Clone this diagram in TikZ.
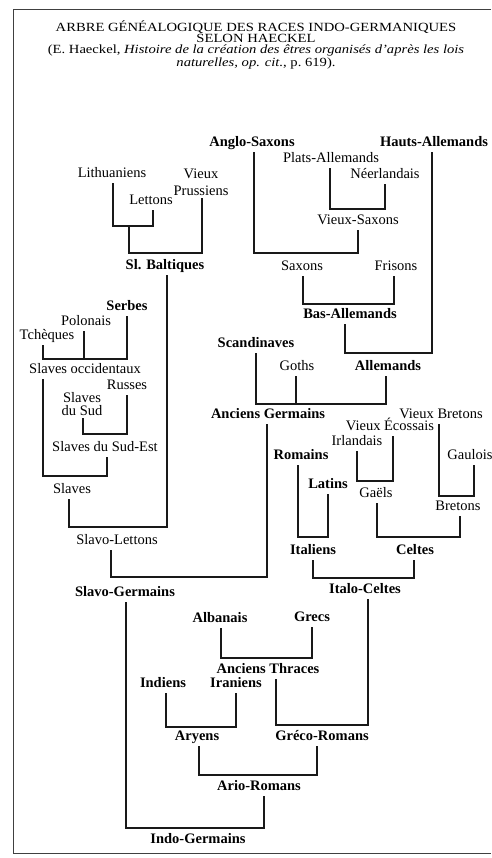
\documentclass[tikz,border=0pt]{standalone}
\usepackage{fontspec}
\setmainfont{Liberation Serif}
\newfontfamily\titlefont[FakeStretch=1.17]{Liberation Serif}
\begin{document}
\begin{tikzpicture}[x=1pt,y=-1pt,
  lab/.style={font=\fontsize{14.5}{17}\selectfont, text height=10pt, text depth=3pt, inner xsep=1pt, inner ysep=2.5pt},
  labb/.style={lab, font=\fontsize{14.5}{17}\selectfont\bfseries},
  twoline/.style={font=\fontsize{14.5}{17}\selectfont, align=center, inner xsep=1pt, inner ysep=2pt, anchor=south},
  tree/.style={line width=1.1pt, black!90},
  frame/.style={line width=1pt, black!75},
  titlestyle/.style={font=\titlefont\fontsize{12.5}{11}\selectfont, align=center, anchor=north, inner sep=0pt}]
\useasboundingbox (0,0) rectangle (491,858);
\draw[frame] (491,10) -- (13,10) -- (13,853) -- (491,853);

\node[titlestyle] (title) at (256,21) {ARBRE GÉNÉALOGIQUE DES RACES INDO-GERMANIQUES\\SELON HAECKEL\\(E. Haeckel, \textit{Histoire de la création des êtres organisés d’après les lois}\\\textit{naturelles, op. cit.}, p.~619).};

% right (Germanic, Celtic, Italic)
\node[labb] (anglo) at (252,143) {Anglo-Saxons};
\node[labb] (hauts) at (434,143) {Hauts-Allemands};
\node[lab] (plats) at (331,159) {Plats-Allemands};
\node[lab] (neer) at (385,175) {Néerlandais};
\node[lab] (vsax) at (358,221) {Vieux-Saxons};
\node[lab] (saxons) at (302,267) {Saxons};
\node[lab] (frisons) at (396,267) {Frisons};
\node[labb] (basall) at (350,315) {Bas-Allemands};
\node[labb] (scand) at (256,344) {Scandinaves};
\node[lab] (goths) at (297,367) {Goths};
\node[labb] (allem) at (388,367) {Allemands};
\node[labb] (ancgerm) at (268,415) {Anciens Germains};
\node[lab] (vbret) at (441,415) {Vieux Bretons};
\node[lab] (vecos) at (390,427) {Vieux Écossais};
\node[lab] (irl) at (357,442) {Irlandais};
\node[labb] (romains) at (301,456) {Romains};
\node[lab] (gaulois) at (470,456) {Gaulois};
\node[labb] (latins) at (328,485) {Latins};
\node[lab] (gaels) at (376,494) {Gaëls};
\node[lab] (bretons) at (458,507) {Bretons};
\node[labb] (italiens) at (313,551) {Italiens};
\node[labb] (celtes) at (415,551) {Celtes};
\node[labb] (italoc) at (365,590) {Italo-Celtes};
\node[labb] (albanais) at (220,619) {Albanais};
\node[labb] (grecs) at (312,618) {Grecs};
\node[labb] (ancthr) at (268,670) {Anciens Thraces};
\node[labb] (indiens) at (163,684) {Indiens};
\node[labb] (iraniens) at (236,684) {Iraniens};
\node[labb] (aryens) at (197,737) {Aryens};
\node[labb] (greco) at (322,737) {Gréco-Romans};
\node[labb] (ario) at (259,787) {Ario-Romans};
\node[labb] (indog) at (198,840) {Indo-Germains};
% left (Slavic, Baltic)
\node[lab] (lith) at (112,174) {Lithuaniens};
\node[twoline] (vprus) at (201,198) {Vieux\\Prussiens};
\node[lab] (lettons) at (151,201) {Lettons};
\node[labb] (slbalt) at (165,266) {Sl. Baltiques};
\node[labb] (serbes) at (127,307) {Serbes};
\node[lab] (polonais) at (86,322) {Polonais};
\node[lab] (tcheques) at (47,336) {Tchèques};
\node[lab] (slocc) at (85,370) {Slaves occidentaux};
\node[lab] (russes) at (127,386) {Russes};
\node[twoline, font=\fontsize{14.5}{13}\selectfont] (slsud) at (82,418) {Slaves\\du Sud};
\node[lab] (slsudest) at (105,448) {Slaves du Sud-Est};
\node[lab] (slaves) at (72,490) {Slaves};
\node[lab] (slavolett) at (117,541) {Slavo-Lettons};
\node[labb] (slavogerm) at (125,593) {Slavo-Germains};

% junctions
\coordinate (jLL) at (129,226);
\coordinate (jSB) at (165,253);
\coordinate (jSL) at (118,527);
\coordinate (jOC) at (85,359);
\coordinate (jSE) at (105,434);
\coordinate (jSV) at (75,476);
\coordinate (jSG) at (190,577);
\coordinate (jIG) at (195,828);
\coordinate (jVS) at (357,209);
\coordinate (jSX) at (306,253);
\coordinate (jBA) at (348,304);
\coordinate (jAL) at (388,353);
\coordinate (jAG) at (321,404);
\coordinate (jGA) at (375,481);
\coordinate (jBR) at (456,496);
\coordinate (jIT) at (313,537);
\coordinate (jCE) at (418,537);
\coordinate (jIC) at (363,578);
\coordinate (jAT) at (266,658);
\coordinate (jGR) at (322,725);
\coordinate (jAR) at (201,727);
\coordinate (jAO) at (258,775);

% connectors
\draw[tree] ([xshift=1pt]lith.south) |- (jLL) -| ([xshift=2pt]lettons.south);
\draw[tree] (jLL) |- (jSB) -| ([xshift=1pt]vprus.south);
\draw[tree] ([xshift=2pt]slbalt.south) |- (jSL) -| ([xshift=-3pt]slaves.south);
\draw[tree] ([xshift=-4pt]tcheques.south) |- (jOC) -| (serbes.south);
\draw[tree] ([xshift=-2pt]polonais.south) |- (jOC);
\draw[tree] ([xshift=1pt]slsud.south) |- (jSE) -| (russes.south);
\draw[tree] ([xshift=-42pt]slocc.south) |- (jSV) -| ([xshift=2pt]slsudest.south);
\draw[tree] ([xshift=-6pt]slavolett.south) |- (jSG) -| ([xshift=-1pt]ancgerm.south);
\draw[tree] ([xshift=1pt]slavogerm.south) |- (jIG) -| ([xshift=5pt]ario.south);
\draw[tree] ([xshift=-1pt]plats.south) |- (jVS) -| (neer.south);
\draw[tree] ([xshift=2pt]anglo.south) |- (jSX) -| (vsax.south);
\draw[tree] ([xshift=1pt]saxons.south) |- (jBA) -| ([xshift=-2pt]frisons.south);
\draw[tree] ([xshift=-5pt]basall.south) |- (jAL) -| ([xshift=-2pt]hauts.south);
\draw[tree] (scand.south) |- (jAG) -| ([xshift=-2pt]allem.south);
\draw[tree] ([xshift=-1pt]goths.south) |- (jAG);
\draw[tree] (irl.south) |- (jGA) -| ([xshift=3pt]vecos.south);
\draw[tree] ([xshift=-2pt]vbret.south) |- (jBR) -| ([xshift=4pt]gaulois.south);
\draw[tree] ([xshift=-3pt]romains.south) |- (jIT) -| (latins.south);
\draw[tree] ([xshift=1pt]gaels.south) |- (jCE) -| ([xshift=2pt]bretons.south);
\draw[tree] (italiens.south) |- (jIC) -| ([xshift=-1pt]celtes.south);
\draw[tree] ([xshift=1pt]albanais.south) |- (jAT) -| (grecs.south);
\draw[tree] ([xshift=8pt]ancthr.south) |- (jGR) -| ([xshift=3pt]italoc.south);
\draw[tree] ([xshift=3pt]indiens.south) |- (jAR) -| (iraniens.south);
\draw[tree] ([xshift=2pt]aryens.south) |- (jAO) -| ([xshift=-5pt]greco.south);
\end{tikzpicture}
\end{document}
